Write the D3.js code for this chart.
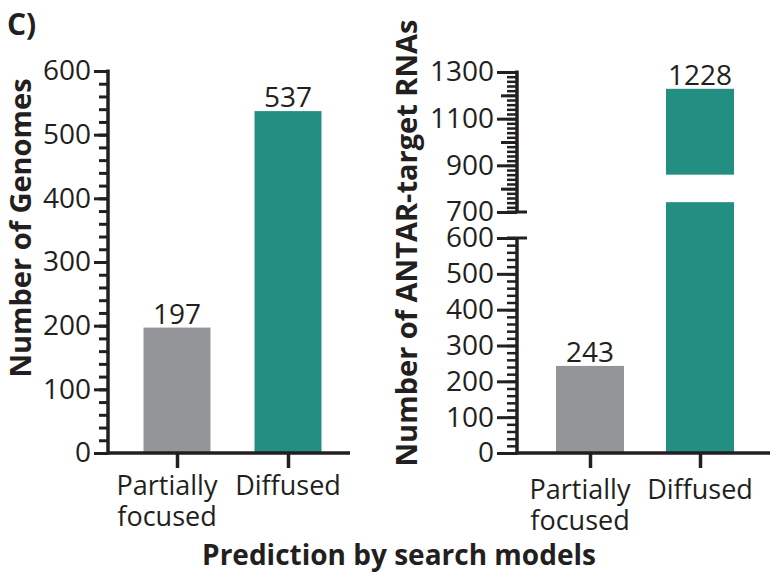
<!DOCTYPE html>
<html>
<head>
<meta charset="utf-8">
<script src="https://cdn.jsdelivr.net/npm/d3@7"></script>
<style>
  html, body { margin: 0; padding: 0; background: #fff; }
  svg text { font-family: "Open Sans", "Noto Sans", sans-serif; fill: #231f20; }
</style>
</head>
<body>
<svg id="chart" width="772" height="576"></svg>
<script>
// Categories and values for both panels
const categories = ["Partially focused", "Diffused"];
const categoryLines = [["Partially", "focused"], ["Diffused"]];
const genomeCounts = [197, 537];
const rnaCounts = [243, 1228];
const barColors = ["#939598", "#238f82"];

// Tick values
const genomeMajorTicks = [0, 100, 200, 300, 400, 500, 600];
const rnaLowerMajorTicks = [0, 100, 200, 300, 400, 500, 600];
const rnaUpperMajorTicks = [700, 900, 1100, 1300];

const svg = d3.select("#chart");
const ink = "#231f20";
const tickFont = 28;

function styleAxis(g, width) {
  g.select(".domain").remove();
  g.selectAll(".tick line").attr("stroke", ink).attr("stroke-width", width);
  g.selectAll(".tick text").attr("font-size", tickFont).attr("fill", ink);
}

function range(a, b, step) {
  const out = [];
  for (let v = a; v <= b + 1e-9; v += step) out.push(v);
  return out;
}

// ---------- Panel 1: Number of Genomes ----------
const p1 = { left: 108, right: 350, top: 71, bottom: 453 };
const x1 = d3.scalePoint().domain(categories).range([177, 288]);
const y1 = d3.scaleLinear().domain([0, 600]).range([p1.bottom, p1.top]);
const bw1 = 67;

const g1 = svg.append("g");

g1.selectAll("rect.bar").data(categories).join("rect")
  .attr("x", d => x1(d) - bw1 / 2)
  .attr("width", bw1)
  .attr("y", (d, i) => y1(genomeCounts[i]))
  .attr("height", (d, i) => y1(0) - y1(genomeCounts[i]))
  .attr("fill", (d, i) => barColors[i]);

g1.selectAll("text.val").data(categories).join("text")
  .attr("x", d => x1(d))
  .attr("y", (d, i) => y1(genomeCounts[i]) - 4)
  .attr("text-anchor", "middle")
  .attr("font-size", tickFont)
  .text((d, i) => genomeCounts[i]);

// minor ticks
g1.append("g").attr("transform", `translate(${p1.left},0)`)
  .call(d3.axisLeft(y1).tickValues(range(0, 600, 20)).tickSize(9).tickFormat(""))
  .call(g => styleAxis(g, 3));
// major ticks
g1.append("g").attr("transform", `translate(${p1.left},0)`)
  .call(d3.axisLeft(y1).tickValues(genomeMajorTicks).tickSize(14).tickPadding(3).tickFormat(d3.format("d")))
  .call(g => styleAxis(g, 3));

g1.append("line").attr("x1", p1.left).attr("x2", p1.left)
  .attr("y1", p1.top - 1.5).attr("y2", p1.bottom + 1.5)
  .attr("stroke", ink).attr("stroke-width", 3.5);

// x axis
g1.append("g").attr("transform", `translate(0,${p1.bottom})`)
  .call(d3.axisBottom(x1).tickSize(15).tickFormat(""))
  .call(g => styleAxis(g, 3.5));
g1.append("line").attr("x1", p1.left).attr("x2", p1.right)
  .attr("y1", p1.bottom).attr("y2", p1.bottom)
  .attr("stroke", ink).attr("stroke-width", 3.5);

// category labels (two-line label sits slightly left of its tick)
function drawCategoryLabels(g, xs, y0) {
  categories.forEach((c, i) => {
    const cx = xs(c) - (categoryLines[i].length > 1 ? 10 : 0);
    categoryLines[i].forEach((line, j) => {
      g.append("text").attr("x", cx).attr("y", y0 + j * 31)
        .attr("text-anchor", "middle").attr("font-size", 27).text(line);
    });
  });
}
drawCategoryLabels(g1, x1, 495);

svg.append("text")
  .attr("transform", `translate(31,228) rotate(-90)`)
  .attr("text-anchor", "middle").attr("font-size", 29).attr("font-weight", "bold")
  .text("Number of Genomes");

// ---------- Panel 2: Number of ANTAR-target RNAs (broken axis) ----------
const p2 = { left: 517, right: 770, bottom: 453 };
const x2 = d3.scalePoint().domain(categories).range([590, 700]);
const yLow = d3.scaleLinear().domain([0, 600]).range([p2.bottom, 238]);
const yUp = d3.scaleLinear().domain([700, 1300]).range([212, 72]);
const lowCap = 700;   // bars drawn in the lower segment are cut here
const upStart = 860;  // bars resume in the upper segment from here
const bw2 = 68;

const g2 = svg.append("g");

categories.forEach((c, i) => {
  const v = rnaCounts[i];
  g2.append("rect")
    .attr("x", x2(c) - bw2 / 2).attr("width", bw2)
    .attr("y", yLow(Math.min(v, lowCap)))
    .attr("height", yLow(0) - yLow(Math.min(v, lowCap)))
    .attr("fill", barColors[i]);
  if (v > upStart) {
    g2.append("rect")
      .attr("x", x2(c) - bw2 / 2).attr("width", bw2)
      .attr("y", yUp(v))
      .attr("height", yUp(upStart) - yUp(v))
      .attr("fill", barColors[i]);
  }
  const top = v > lowCap ? yUp(v) : yLow(v);
  g2.append("text")
    .attr("x", x2(c)).attr("y", top - 4)
    .attr("text-anchor", "middle").attr("font-size", tickFont)
    .text(v);
});

// lower segment ticks
g2.append("g").attr("transform", `translate(${p2.left},0)`)
  .call(d3.axisLeft(yLow).tickValues(range(0, 600, 20)).tickSize(10).tickFormat(""))
  .call(g => styleAxis(g, 2.5));
g2.append("g").attr("transform", `translate(${p2.left},0)`)
  .call(d3.axisLeft(yLow).tickValues(rnaLowerMajorTicks).tickSize(20).tickPadding(3).tickFormat(d3.format("d")))
  .call(g => styleAxis(g, 3));
g2.append("line").attr("x1", p2.left).attr("x2", p2.left)
  .attr("y1", yLow(600)).attr("y2", p2.bottom + 1.5)
  .attr("stroke", ink).attr("stroke-width", 3.5);
g2.append("line").attr("x1", p2.left - 10).attr("x2", p2.left + 10)
  .attr("y1", yLow(600)).attr("y2", yLow(600))
  .attr("stroke", ink).attr("stroke-width", 3);

// upper segment ticks
g2.append("g").attr("transform", `translate(${p2.left},0)`)
  .call(d3.axisLeft(yUp).tickValues(range(700, 1300, 20)).tickSize(10).tickFormat(""))
  .call(g => styleAxis(g, 2.5));
g2.append("g").attr("transform", `translate(${p2.left},0)`)
  .call(d3.axisLeft(yUp).tickValues(range(800, 1200, 200)).tickSize(16).tickFormat(""))
  .call(g => styleAxis(g, 3));
g2.append("g").attr("transform", `translate(${p2.left},0)`)
  .call(d3.axisLeft(yUp).tickValues(rnaUpperMajorTicks).tickSize(20).tickPadding(3).tickFormat(d3.format("d")))
  .call(g => styleAxis(g, 3));
g2.append("line").attr("x1", p2.left).attr("x2", p2.left)
  .attr("y1", yUp(1300) - 1.5).attr("y2", yUp(700))
  .attr("stroke", ink).attr("stroke-width", 3.5);
g2.append("line").attr("x1", p2.left - 10).attr("x2", p2.left + 10)
  .attr("y1", yUp(700)).attr("y2", yUp(700))
  .attr("stroke", ink).attr("stroke-width", 3);

// x axis
g2.append("g").attr("transform", `translate(0,${p2.bottom})`)
  .call(d3.axisBottom(x2).tickSize(15).tickFormat(""))
  .call(g => styleAxis(g, 3.5));
g2.append("line").attr("x1", p2.left).attr("x2", p2.right)
  .attr("y1", p2.bottom).attr("y2", p2.bottom)
  .attr("stroke", ink).attr("stroke-width", 3.5);

drawCategoryLabels(g2, x2, 499);

svg.append("text")
  .attr("transform", `translate(417,243) rotate(-90)`)
  .attr("text-anchor", "middle").attr("font-size", 29).attr("font-weight", "bold")
  .text("Number of ANTAR-target RNAs");

// shared x title and panel tag
svg.append("text")
  .attr("x", 399).attr("y", 565)
  .attr("text-anchor", "middle").attr("font-size", 28).attr("font-weight", "bold")
  .text("Prediction by search models");

svg.append("text")
  .attr("x", 7).attr("y", 35)
  .attr("font-size", 30).attr("font-weight", "bold")
  .text("C)");
</script>
</body>
</html>
